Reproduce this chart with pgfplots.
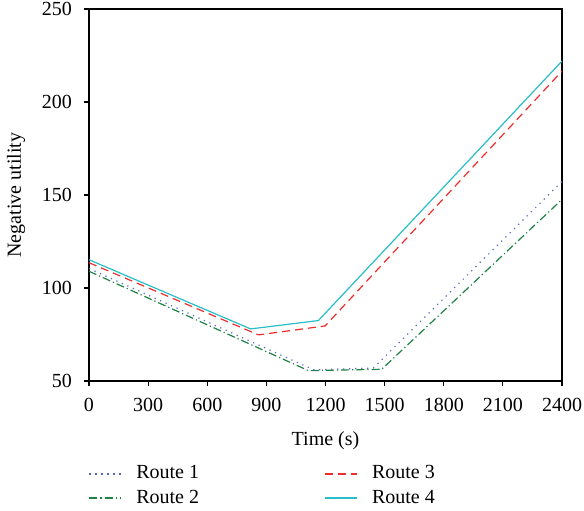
\documentclass[border=0pt]{standalone}
\usepackage{fontspec}
\setmainfont{Liberation Serif}
\usepackage{pgfplots}
\pgfplotsset{compat=1.18}
\definecolor{routeone}{RGB}{85,105,190}
\definecolor{routetwo}{RGB}{30,130,70}
\definecolor{routethree}{RGB}{240,45,45}
\definecolor{routefour}{RGB}{40,190,200}

\begin{document}
\fontsize{10}{12}\selectfont
\begin{tikzpicture}
\begin{axis}[
  scale only axis,
  width=236.5pt, height=186pt,
  xmin=0, xmax=2400, ymin=50, ymax=250,
  xtick={0,300,...,2400}, ytick={50,100,...,250},
  tick align=outside, xtick pos=bottom, ytick pos=left,
  major tick length=2.5pt,
  /pgf/number format/assume math mode=true,
  /pgf/number format/1000 sep={},
  tick label style={font=\fontsize{10}{12}\selectfont},
  xticklabel style={yshift=-2.5pt},
  yticklabel style={xshift=-2.5pt},
  label style={font=\fontsize{10}{12}\selectfont},
  xlabel={Time (s)}, ylabel={Negative utility},
  xlabel style={yshift=-3pt},
  ylabel style={yshift=1.5pt},
  axis line style={line width=0.6pt},
  every tick/.style={line width=0.6pt, black},
  legend columns=2,
  legend cell align=left,
  legend style={draw=none, fill=none, at={(-0.015,-0.205)}, anchor=north west,
    font=\fontsize{10}{12}\selectfont,
    /tikz/every odd column/.append style={column sep=5pt},
    /tikz/every even column/.append style={column sep=60.5pt}},
  legend image code/.code={\draw[mark repeat=2,mark phase=2,#1,line width=1pt] plot coordinates {(0pt,0pt) (8pt,0pt) (16pt,0pt)};},
]
\addplot[color=routeone, line width=0.6pt, dash pattern=on 0.6pt off 2.4pt] coordinates {
(0,110.5) (1140,56) (1443,57) (2400,157.3)};
\addlegendentry{Route 1}
\addplot[color=routethree, line width=0.6pt, dash pattern=on 4pt off 2.5pt] coordinates {
(0,113.6) (860,74.8) (1198,79.6) (2400,216.6)};
\addlegendentry{Route 3}
\addplot[color=routetwo, line width=0.6pt, dash pattern=on 4pt off 1.5pt on 0.6pt off 1.5pt] coordinates {
(0,109) (1113,55.6) (1485,56.3) (2400,147.6)};
\addlegendentry{Route 2}
\addplot[color=routefour, line width=0.6pt] coordinates {
(0,115.2) (820,78) (1164,82.5) (2400,222)};
\addlegendentry{Route 4}
\coordinate (bl) at (rel axis cs:0,0);
\coordinate (tr) at (rel axis cs:1,1);
\end{axis}
\pgfresetboundingbox
\path ([xshift=-44.5pt,yshift=-64.5pt]bl) rectangle ([xshift=11pt,yshift=4.5pt]tr);
\end{tikzpicture}
\end{document}
